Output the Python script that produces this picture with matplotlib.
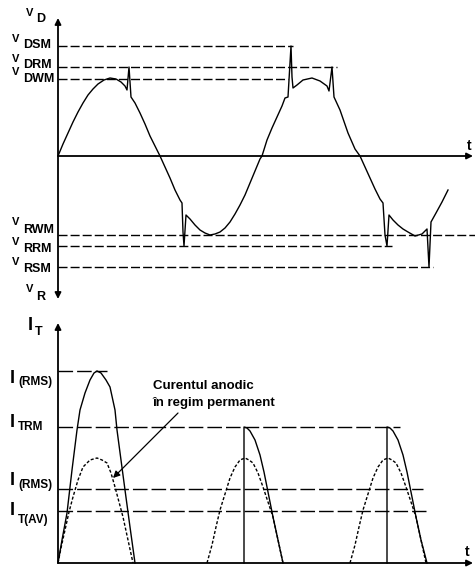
import matplotlib
matplotlib.use("Agg")
import matplotlib.pyplot as plt

plt.rcParams['font.family'] = ['Liberation Sans', 'DejaVu Sans']
plt.rcParams['lines.scale_dashes'] = False

# ---- top panel: anode voltage v_D (diagram units, t axis at v = 0)
t_v = [0, 5, 10, 15, 20, 25, 30, 35, 40, 46, 52, 58, 63, 67, 69, 71, 73, 77, 82, 87, 92, 97, 102,
       107, 112, 117, 122, 124, 125, 126, 128, 132, 137, 142, 147, 152, 157, 162, 167, 172, 177,
       182, 187, 192, 197, 202, 204,
       209, 214, 219, 224, 227, 230, 233, 234, 235, 239, 245, 254, 262, 269, 271, 274, 276, 282,
       290, 297, 302,
       307, 312, 317, 322, 325, 327, 329, 331, 335, 340, 345, 350, 357, 364, 369, 371, 373, 378,
       384, 390]
v_D = [0, 12, 23, 34, 44, 53, 61, 67, 72, 76, 78, 77, 74, 70, 66, 89, 59, 53, 43, 32, 20, 10, 0,
       -11, -22, -34, -44, -47, -76, -90, -59, -63, -69, -74, -77, -79, -78, -76, -72, -66, -58,
       -49, -39, -27, -15, -3, 0,
       16, 28, 39, 50, 58, 59, 110, 79, 68, 71, 76, 78, 75, 70, 65, 89, 59, 46,
       23, 7, 0,
       -11, -22, -33, -43, -47, -79, -90, -59, -64, -69, -73, -76, -80, -78, -73, -111, -66, -57,
       -46, -34]

v_names = ['DSM', 'DRM', 'DWM', 'RWM', 'RRM', 'RSM']
v_levels = [110, 89, 77, -79, -90, -111]
v_level_end = [235, 279, 230, 417, 334, 375]

# ---- bottom panel: anode current i_T
t_s1 = [0, 4, 9, 14, 19, 22, 27, 32, 36, 39, 43, 48, 52, 57, 59, 63, 67, 72, 77]
i_s1 = [0, 23, 50, 93, 133, 153, 170, 183, 190, 192, 190, 183, 176, 153, 133, 103, 73, 36, 0]
t_d1 = [0, 3, 7, 11, 15, 20, 25, 32, 39, 44, 49, 53, 57, 61, 65, 70, 75]
i_d1 = [0, 15, 33, 51, 66, 83, 96, 103, 105, 103, 100, 90, 76, 61, 46, 23, 0]
t_d2 = [149, 154, 158, 162, 167, 172, 177, 182, 187, 191, 195, 200, 205, 210, 215, 220, 225]
t_d3 = [292, 297, 301, 305, 310, 315, 320, 325, 330, 334, 338, 343, 348, 353, 358, 363, 368]
i_d = [0, 18, 36, 53, 69, 85, 96, 103, 105, 103, 100, 90, 76, 61, 46, 23, 0]
t_s2 = [186, 186, 189, 192, 197, 202, 206, 210, 215, 220, 225]
t_s3 = [329, 329, 332, 335, 340, 345, 349, 353, 358, 363, 369]
i_s = [0, 136, 135, 132, 123, 108, 91, 71, 46, 23, 0]

i_labels = ['(RMS)', 'TRM', '(RMS)', 'T(AV)']
i_levels = [192, 136, 74, 52]
i_level_end = [49, 342, 365, 368]

fig = plt.figure(figsize=(4.75, 5.7), dpi=100)
ax1 = fig.add_axes([0, 1 - 310 / 570, 1, 310 / 570])
ax2 = fig.add_axes([0, 0, 1, 1 - 310 / 570])
ax1.set_xlim(-58, 417)
ax1.set_ylim(-154, 156)
ax2.set_xlim(-58, 417)
ax2.set_ylim(-7, 253)
for ax in (ax1, ax2):
    ax.axis('off')

arrow = dict(arrowstyle='-|>', lw=1.3, color='black', mutation_scale=9, shrinkA=0, shrinkB=0)
both = dict(arrowstyle='<|-|>', lw=1.3, color='black', mutation_scale=9, shrinkA=0, shrinkB=0)
bold = dict(fontweight='bold', color='black')

# top axes
ax1.annotate('', xy=(0, 138), xytext=(0, -143), arrowprops=both)
ax1.annotate('', xy=(415, 0), xytext=(0, 0), arrowprops=arrow)
ax1.plot(t_v, v_D, color='black', lw=1.0)
for lv, end in zip(v_levels, v_level_end):
    ax1.plot([0, end], [lv, lv], color='black', lw=1.0, dashes=(6.5, 2.2))

ax1.text(-32, 140, 'V', fontsize=8, **bold)
ax1.text(-22, 134, 'D', fontsize=9, **bold)
ax1.text(-32, -136, 'V', fontsize=8, **bold)
ax1.text(-22, -144, 'R', fontsize=9, **bold)
v_label_y = [(114, 108), (94, 88), (81, 74), (-69, -77), (-89, -96), (-109, -116)]
for name, (yv, ys) in zip(v_names, v_label_y):
    ax1.text(-46, yv, 'V', fontsize=8, **bold)
    ax1.text(-35, ys, name, fontsize=9, **bold)
ax1.text(409, 6, 't', fontsize=10, **bold)

# bottom axes
ax2.annotate('', xy=(0, 240), xytext=(0, 0), arrowprops=arrow)
ax2.annotate('', xy=(415, 0), xytext=(0, 0), arrowprops=arrow)
ax2.plot(t_s1, i_s1, color='black', lw=1.0)
ax2.plot(t_s2, i_s, color='black', lw=1.0)
ax2.plot(t_s3, i_s, color='black', lw=1.0)
ax2.plot(t_d1, i_d1, color='black', lw=1.0, dashes=(2.2, 1.4))
ax2.plot(t_d2, i_d, color='black', lw=1.0, dashes=(2.2, 1.4))
ax2.plot(t_d3, i_d, color='black', lw=1.0, dashes=(2.2, 1.4))
for lv, end in zip(i_levels, i_level_end):
    ax2.plot([0, end], [lv, lv], color='black', lw=1.0, dashes=(10.5, 2.9))

ax2.text(-30, 233, 'I', fontsize=13, **bold)
ax2.text(-23, 228, 'T', fontsize=9, **bold)
i_label_y = [(180, 178), (136, 133), (78, 75), (48, 40)]
for name, (yi, ys) in zip(i_labels, i_label_y):
    ax2.text(-48, yi, 'I', fontsize=13, **bold)
    ax2.text(-40, ys, name, fontsize=8.5, **bold)
ax2.text(407, 7, 't', fontsize=10, **bold)

ax2.annotate('', xy=(55, 85), xytext=(120, 150),
             arrowprops=dict(arrowstyle='-|>', lw=0.9, color='black', mutation_scale=10,
                             shrinkA=0, shrinkB=0))
ax2.text(95, 174, 'Curentul anodic', fontsize=9.5, **bold)
ax2.text(95, 157, 'în regim permanent', fontsize=9.5, **bold)

fig.savefig('out.png', dpi=100, facecolor='white')
